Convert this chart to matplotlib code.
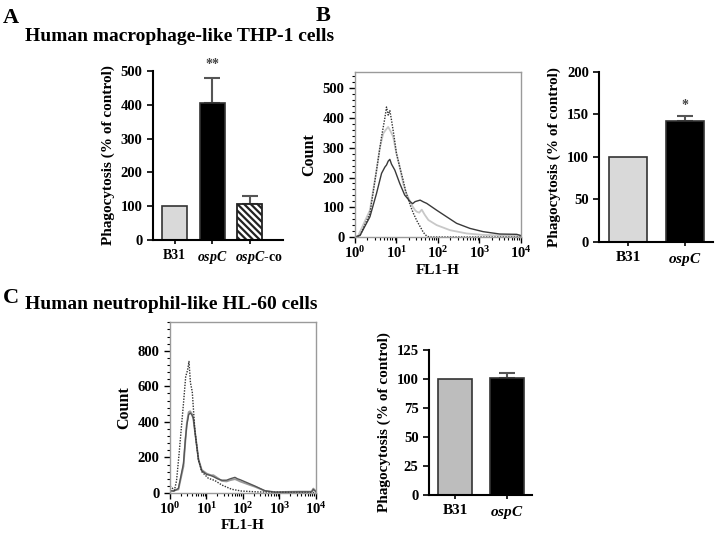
import numpy as np
import matplotlib
matplotlib.use("Agg")
import matplotlib.pyplot as plt
import matplotlib.transforms as mtransforms
from matplotlib.ticker import MultipleLocator, FixedLocator, LogLocator, NullFormatter, LogFormatterMathtext

plt.rcParams['font.family'] = 'Liberation Serif'
plt.rcParams['font.weight'] = 'bold'
plt.rcParams['axes.labelweight'] = 'bold'
plt.rcParams['mathtext.fontset'] = 'custom'
plt.rcParams['mathtext.rm'] = 'Liberation Serif:bold'
plt.rcParams['mathtext.it'] = 'Liberation Serif:italic:bold'
plt.rcParams['mathtext.bf'] = 'Liberation Serif:bold'
plt.rcParams['hatch.linewidth'] = 1.6

# --- data ---
a_strains = ['B31', r'$\mathit{ospC}$', r'$\mathit{ospC}$-co']
a_values = [100, 405, 105]
a_err = [0, 75, 25]

b_strains = ['B31', r'$\mathit{ospC}$']
b_values = [100, 142]
b_err = [0, 6]

c_strains = ['B31', r'$\mathit{ospC}$']
c_values = [100, 101]
c_err = [0, 4]

# THP-1 histograms (FL1-H, count)
b_ctrl_x = [1.0, 1.32, 2.29, 3.31, 4.37, 5.25, 5.75, 6.31, 6.92, 7.59, 8.71, 10, 12.0, 14.5,
            16.6, 19.5, 22.4, 25.7, 30.9, 37.2, 44.7, 53.7, 63.1, 10000]
b_ctrl_y = [0, 5, 79, 225, 337, 400, 437, 410, 425, 393, 340, 281, 235, 191,
            155, 124, 100, 79, 55, 35, 15, 3, 0, 0]
b_gray_x = [1.0, 1.20, 2.29, 3.31, 3.98, 4.79, 5.50, 6.31, 7.24, 8.32, 10, 12.0, 14.5, 17.4,
            23.4, 28.2, 30.9, 35.5, 40.7, 47.9, 58.9, 93.3, 195, 490, 1230, 7940, 10000]
b_gray_y = [0, 5, 90, 225, 300, 348, 360, 370, 355, 337, 280, 236, 180, 146,
            107, 90, 85, 82, 92, 75, 57, 40, 23, 12, 7, 4, 3]
b_dark_x = [1.0, 1.32, 2.29, 3.31, 4.37, 5.25, 5.75, 6.31, 6.92, 7.59, 9.12, 12.0, 15.8, 21.4,
            24.5, 28.2, 37.2, 44.7, 53.7, 93.3, 162, 282, 589, 1230, 3090, 7940, 10000]
b_dark_y = [0, 5, 68, 147, 214, 235, 242, 255, 261, 245, 225, 180, 141, 119,
            112, 119, 124, 118, 113, 90, 68, 46, 29, 18, 10, 9, 5]

# HL-60 histograms (FL1-H, count)
c_ctrl_x = [1.0, 1.12, 1.32, 1.51, 1.78, 2.09, 2.34, 2.69, 3.02, 3.31, 3.63, 4.07, 4.79, 6.03,
            7.41, 11.2, 17.0, 26.3, 49.0, 91.2, 263, 3160, 10000]
c_ctrl_y = [40, 30, 15, 70, 225, 390, 505, 655, 690, 740, 620, 570, 355, 186,
            120, 83, 70, 45, 21, 11, 6, 3, 3]
c_dark_x = [1.0, 1.26, 1.70, 2.34, 2.63, 2.88, 3.24, 3.55, 3.98, 4.37, 5.01, 6.03, 7.41, 10,
            13.2, 15.5, 20.0, 26.3, 35.5, 44.7, 60.3, 70.8, 83.2, 141, 214, 398, 759, 3310,
            7590, 8510, 10000]
c_dark_y = [15, 10, 26, 167, 300, 380, 440, 450, 440, 420, 317, 186, 125, 105,
            98, 92, 80, 72, 72, 80, 88, 80, 75, 55, 39, 13, 4, 6,
            6, 20, 8]
c_gray_x = [1.0, 1.70, 2.34, 2.63, 2.88, 3.24, 3.55, 3.98, 4.37, 5.01, 6.03, 7.41, 10,
            13.2, 15.5, 20.0, 26.3, 35.5, 44.7, 60.3, 70.8, 83.2, 141, 214, 398, 759, 3310,
            7590, 8510, 10000]
c_gray_y = [8, 20, 150, 290, 390, 455, 460, 445, 415, 320, 190, 130, 110,
            100, 100, 85, 68, 65, 72, 78, 72, 65, 48, 35, 12, 5, 8,
            8, 25, 10]

decades = [1, 10, 100, 1000, 10000]

fig = plt.figure(figsize=(7.15, 5.35), dpi=100)


def bar_panel(rect, labels, values, errs, colors, ymax, ystep, xlim, width,
              star=None, star_y=None, xfs=11):
    ax = fig.add_axes(rect)
    x = np.arange(len(values))
    for i in range(len(values)):
        if colors[i] == 'hatch':
            ax.bar(x[i], values[i], width=width, color='white', edgecolor='#222222',
                   hatch='\\\\\\\\\\', linewidth=1.3, zorder=2)
        else:
            ax.bar(x[i], values[i], width=width, color=colors[i], edgecolor='#333333',
                   linewidth=1.2, zorder=2)
        if errs[i] > 0:
            ax.errorbar(x[i], values[i], yerr=[[0], [errs[i]]], fmt='none',
                        ecolor='#555555', elinewidth=1.5, capsize=6, capthick=1.5, zorder=1)
    ax.set_xlim(*xlim)
    ax.set_ylim(0, ymax)
    ax.yaxis.set_major_locator(MultipleLocator(ystep))
    ax.set_xticks(x)
    ax.set_xticklabels(labels, fontsize=xfs)
    ax.tick_params(axis='y', labelsize=10.5, length=4, width=1.2)
    ax.tick_params(axis='x', length=3, width=1.2)
    for s in ['top', 'right']:
        ax.spines[s].set_visible(False)
    for s in ['left', 'bottom']:
        ax.spines[s].set_linewidth(1.5)
    ax.set_ylabel('Phagocytosis (% of control)', fontsize=11, labelpad=4)
    if star:
        ax.text(1, star_y, star, ha='center', va='bottom', fontsize=10, color='#444444',
                clip_on=False)
    return ax


def hist_panel(rect, ymax, ymaj, ymin):
    ax = fig.add_axes(rect)
    ax.set_xscale('log')
    ax.set_xlim(1, 10000)
    ax.set_ylim(0, ymax)
    ax.yaxis.set_major_locator(MultipleLocator(ymaj))
    ax.yaxis.set_minor_locator(MultipleLocator(ymin))
    ax.xaxis.set_major_locator(FixedLocator(decades))
    ax.xaxis.set_major_formatter(LogFormatterMathtext())
    ax.xaxis.set_minor_locator(LogLocator(base=10, subs=np.arange(2, 10), numticks=20))
    ax.xaxis.set_minor_formatter(NullFormatter())
    for s in ax.spines.values():
        s.set_color('#9a9a9a')
        s.set_linewidth(1.0)
    ax.tick_params(which='major', length=4, width=1.0, labelsize=10.5)
    ax.tick_params(axis='x', which='major', pad=2)
    ax.tick_params(which='minor', length=2, width=0.8)
    ax.set_ylabel('Count', fontsize=11.5)
    return ax


# A: THP-1 bars
axa = bar_panel([0.214, 0.5514, 0.182, 0.316], a_strains, a_values, a_err,
                ['#d9d9d9', 'black', 'hatch'], 500, 100, (-0.573, 2.89), 0.667,
                star='**', star_y=500, xfs=10)
shift = mtransforms.ScaledTranslation(0.09, 0, fig.dpi_scale_trans)
lab = axa.get_xticklabels()[2]
lab.set_transform(lab.get_transform() + shift)

# B: THP-1 histogram
axb = hist_panel([0.4965, 0.557, 0.232, 0.308], 554, 100, 20)
axb.plot(b_gray_x, b_gray_y, color='#c8c8c8', lw=1.3)
axb.plot(b_dark_x, b_dark_y, color='#3a3a3a', lw=1.0)
axb.plot(b_ctrl_x, b_ctrl_y, color='#333333', lw=1.0, linestyle=(0, (1, 1)))
axb.set_xlabel('FL1-H', fontsize=11, labelpad=2)

# B: THP-1 bars
bar_panel([0.838, 0.548, 0.159, 0.318], b_strains, b_values, b_err,
          ['#d9d9d9', 'black'], 200, 50, (-0.51, 1.49), 0.667,
          star='*', star_y=153)

# C: HL-60 histogram
axc = hist_panel([0.2378, 0.0785, 0.204, 0.32], 963, 200, 40)
axc.plot(c_gray_x, c_gray_y, color='#9a9a9a', lw=1.3)
axc.plot(c_dark_x, c_dark_y, color='#555555', lw=1.0)
axc.plot(c_ctrl_x, c_ctrl_y, color='#333333', lw=1.0, linestyle=(0, (1, 1)))
axc.set_xlabel('FL1-H', fontsize=11, labelpad=1)

# C: HL-60 bars
bar_panel([0.600, 0.0748, 0.144, 0.271], c_strains, c_values, c_err,
          ['#bdbdbd', 'black'], 125, 25, (-0.5, 1.48), 0.654)

# panel letters and titles
fig.text(0.004, 0.985, 'A', fontsize=16, va='top', ha='left')
fig.text(0.441, 0.988, 'B', fontsize=16, va='top', ha='left')
fig.text(0.004, 0.462, 'C', fontsize=16, va='top', ha='left')
fig.text(0.035, 0.932, 'Human macrophage-like THP-1 cells', fontsize=14, va='center', ha='left')
fig.text(0.035, 0.430, 'Human neutrophil-like HL-60 cells', fontsize=14, va='center', ha='left')

fig.savefig('out.png', dpi=100)
